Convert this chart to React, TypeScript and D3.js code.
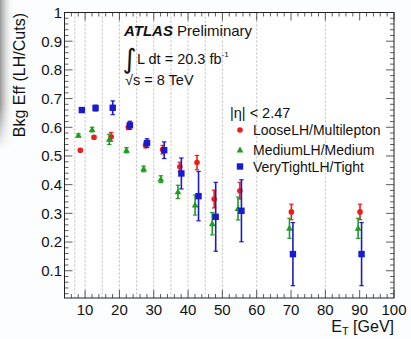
import React from "react";
import * as d3 from "d3";

const binCenters = [8.5, 12.5, 17.5, 22.5, 27.5, 32.5, 37.5, 42.5, 47.5, 55, 70, 90];
const binEdges = [7, 10, 15, 20, 25, 30, 35, 40, 45, 50, 60, 80];
const looseEff = [0.52, 0.565, 0.567, 0.6, 0.538, 0.522, 0.462, 0.477, 0.35, 0.379, 0.305, 0.305];
const looseErr = [0.005, 0.006, 0.015, 0.008, 0.01, 0.015, 0.016, 0.025, 0.031, 0.029, 0.027, 0.027];
const mediumEff = [0.572, 0.592, 0.558, 0.52, 0.455, 0.419, 0.375, 0.329, 0.264, 0.317, 0.248, 0.248];
const mediumErr = [0.005, 0.008, 0.018, 0.009, 0.01, 0.012, 0.023, 0.035, 0.039, 0.04, 0.035, 0.035];
const tightEff = [0.66, 0.667, 0.668, 0.607, 0.545, 0.52, 0.439, 0.36, 0.288, 0.309, 0.158, 0.158];
const tightErr = [0.006, 0.01, 0.024, 0.014, 0.015, 0.029, 0.054, 0.086, 0.12, 0.108, 0.11, 0.11];
const seriesNames = ["LooseLH/Multilepton", "MediumLH/Medium", "VeryTightLH/Tight"];
const xTickLabels = ["10", "20", "30", "40", "50", "60", "70", "80", "90", "100"];
const yTickLabels = ["0.1", "0.2", "0.3", "0.4", "0.5", "0.6", "0.7", "0.8", "0.9", "1"];

const W = 411, H = 339;
const L = 64.5, R = 394, T = 12.5, B = 298;
const FONT = "'Liberation Sans', Arial, Helvetica, sans-serif";
const RED = "#ee1c1c", GREEN = "#1e9e1e", BLUE = "#1a1ad0";

const series = [
  { name: seriesNames[0], eff: looseEff, err: looseErr, color: RED, shape: "circle", shift: 0.1 },
  { name: seriesNames[1], eff: mediumEff, err: mediumErr, color: GREEN, shape: "triangle", shift: -0.45 },
  { name: seriesNames[2], eff: tightEff, err: tightErr, color: BLUE, shape: "square", shift: 0.55 },
];

function Marker({ shape, x, y, color }: { shape: string; x: number; y: number; color: string }) {
  if (shape === "circle") return <circle cx={x} cy={y} r={2.8} fill={color} />;
  if (shape === "square") return <rect x={x - 3.2} y={y - 3.2} width={6.4} height={6.4} fill={color} />;
  const sym = d3.symbol().type(d3.symbolTriangle).size(20)();
  return <path d={sym || ""} transform={`translate(${x},${y + 0.5})`} fill={color} />;
}

export default function App() {
  const x = d3.scaleLinear().domain([4, 100]).range([L, R]);
  const y = d3.scaleLinear().domain([0.005, 1]).range([B, T]);

  const xMajor = xTickLabels.map(Number);
  const xMinor = d3.range(6, 100, 2).filter((v) => v % 10 !== 0);
  const yMajor = yTickLabels.map(Number);
  const yMinor = d3.range(0.02, 1, 0.02).filter((v) => Math.abs(v * 10 - Math.round(v * 10)) > 1e-6);

  return (
    <svg width={W} height={H} style={{ position: "fixed", left: 0, top: 0, background: "#fff" }} fontFamily={FONT}>
      <defs>
        <linearGradient id="shade" x1="0" x2="1" y1="0" y2="0">
          <stop offset="0" stopColor="#8a8a8a" stopOpacity={0.9} />
          <stop offset="1" stopColor="#ffffff" stopOpacity={0} />
        </linearGradient>
        <linearGradient id="shadeV" x1="0" x2="0" y1="0" y2="1">
          <stop offset="0.7" stopColor="#fff" stopOpacity={1} />
          <stop offset="1" stopColor="#fff" stopOpacity={0} />
        </linearGradient>
        <mask id="m">
          <rect x={0} y={0} width={20} height={150} fill="url(#shadeV)" />
        </mask>
      </defs>
      <rect x={0} y={0} width={W} height={H} fill="#fbfdfe" />
      <rect x={0} y={0} width={14} height={150} fill="url(#shade)" mask="url(#m)" />
      <rect x={L} y={T} width={R - L} height={B - T} fill="#fff" />

      {binEdges.map((e) => (
        <line key={e} x1={x(e)} x2={x(e)} y1={T} y2={B} stroke="#aaa" strokeWidth={0.8} strokeDasharray="2,2" />
      ))}

      {/* ticks */}
      {xMajor.map((v) => (
        <g key={"xM" + v}>
          <line x1={x(v)} x2={x(v)} y1={B} y2={B - 8} stroke="#333" strokeWidth={0.8} />
          <line x1={x(v)} x2={x(v)} y1={T} y2={T + 8} stroke="#333" strokeWidth={0.8} />
        </g>
      ))}
      {xMinor.map((v) => (
        <g key={"xm" + v}>
          <line x1={x(v)} x2={x(v)} y1={B} y2={B - 4} stroke="#333" strokeWidth={0.8} />
          <line x1={x(v)} x2={x(v)} y1={T} y2={T + 4} stroke="#333" strokeWidth={0.8} />
        </g>
      ))}
      {yMajor.map((v) => (
        <g key={"yM" + v}>
          <line x1={L} x2={L + 8} y1={y(v)} y2={y(v)} stroke="#333" strokeWidth={0.8} />
          <line x1={R} x2={R - 8} y1={y(v)} y2={y(v)} stroke="#333" strokeWidth={0.8} />
        </g>
      ))}
      {yMinor.map((v) => (
        <g key={"ym" + v}>
          <line x1={L} x2={L + 4} y1={y(v)} y2={y(v)} stroke="#333" strokeWidth={0.8} />
          <line x1={R} x2={R - 4} y1={y(v)} y2={y(v)} stroke="#333" strokeWidth={0.8} />
        </g>
      ))}
      <rect x={L} y={T} width={R - L} height={B - T} fill="none" stroke="#222" strokeWidth={1} />

      {/* tick labels */}
      {xTickLabels.map((t) => (
        <text key={"xl" + t} x={x(Number(t))} y={315} fontSize={15} textAnchor="middle" fill="#111">{t}</text>
      ))}
      {yTickLabels.map((t) => (
        <text key={"yl" + t} x={62} y={y(Number(t))} dy="0.36em" fontSize={15} textAnchor="end" fill="#111">{t}</text>
      ))}

      {/* axis titles */}
      <text x={394} y={332} fontSize={16} textAnchor="end" fill="#111">
        E<tspan fontSize={11} dy={3}>T</tspan><tspan dy={-3}> [GeV]</tspan>
      </text>
      <text transform="translate(25,13) rotate(-90)" fontSize={16} textAnchor="end" fill="#111">Bkg Eff (LH/Cuts)</text>

      {/* data */}
      {series.map((s) => (
        <g key={s.name}>
          {binCenters.map((c, i) => {
            const cx = x(c + s.shift);
            const y0 = y(s.eff[i] - s.err[i]);
            const y1 = y(s.eff[i] + s.err[i]);
            return (
              <g key={i}>
                <line x1={cx} x2={cx} y1={y0} y2={y1} stroke={s.color} strokeWidth={1.6} />
                <line x1={cx - 2.2} x2={cx + 2.2} y1={y0} y2={y0} stroke={s.color} strokeWidth={1.2} />
                <line x1={cx - 2.2} x2={cx + 2.2} y1={y1} y2={y1} stroke={s.color} strokeWidth={1.2} />
                <Marker shape={s.shape} x={cx} y={y(s.eff[i])} color={s.color} />
              </g>
            );
          })}
        </g>
      ))}

      {/* ATLAS label */}
      <text x={124} y={36} fontSize={15} fill="#111">
        <tspan fontWeight="bold" fontStyle="italic">ATLAS</tspan> Preliminary
      </text>
      <text x={122.5} y={68} fontSize={27} fill="#111" fontFamily="'DejaVu Sans', sans-serif">∫</text>
      <text x={137} y={64} fontSize={14.5} fill="#111">
        L dt = 20.3 fb<tspan fontSize={8} dy={-7}>-1</tspan>
      </text>
      <text x={125} y={85} fontSize={14.5} fill="#111">√s = 8 TeV</text>

      {/* legend */}
      <text x={230} y={118} fontSize={14.5} fill="#111">|η| &lt; 2.47</text>
      {series.map((s, i) => {
        const ly = [130, 150, 166.5][i];
        return (
          <g key={"lg" + i}>
            <Marker shape={s.shape} x={240} y={ly} color={s.color} />
            <text x={253} y={ly} dy="0.36em" fontSize={14} fill="#111">{s.name}</text>
          </g>
        );
      })}
    </svg>
  );
}
